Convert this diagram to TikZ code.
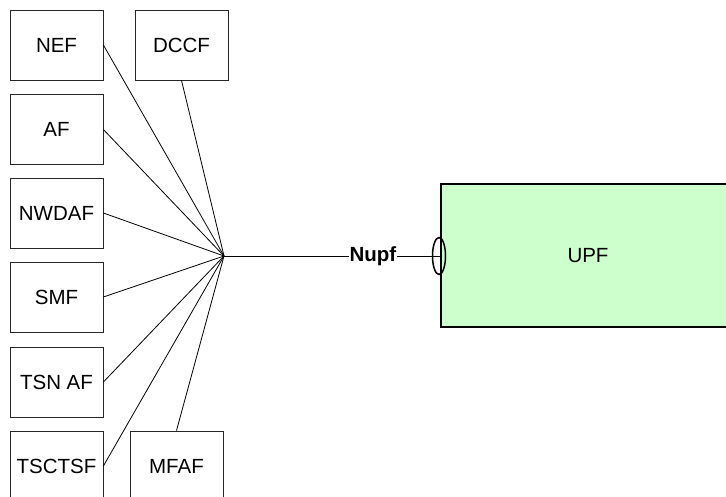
\documentclass[tikz,border=0pt]{standalone}
\usepackage{fontspec}
\setmainfont{Liberation Sans}
\usetikzlibrary{shapes.geometric}
\begin{document}
\begin{tikzpicture}[x=1pt,y=-1pt,
  nf/.style={draw=black!85, line width=0.8pt, minimum width=93pt, minimum height=70pt, inner sep=0pt, font=\fontsize{20.5}{24}\selectfont},
  conn/.style={draw=black, line width=0.8pt},
  upfbox/.style={draw=black, line width=2.5pt, fill=upfgreen, minimum width=294pt, minimum height=143pt, inner sep=0pt, font=\fontsize{20.5}{24}\selectfont}]
\definecolor{upfgreen}{HTML}{CCFFCC}
\useasboundingbox (0,0) rectangle (726,497);
\clip (0,0) rectangle (726,497);
\node[nf] (nef) at (56.5,45) {NEF};
\node[nf] (dccf) at (181.5,45) {DCCF};
\node[nf] (af) at (56.5,129.5) {AF};
\node[nf] (nwdaf) at (56.5,213) {NWDAF};
\node[nf] (smf) at (56.5,297) {SMF};
\node[nf] (tsnaf) at (56.5,382) {TSN AF};
\node[nf] (tsctsf) at (56.5,466) {TSCTSF};
\node[nf] (mfaf) at (176.5,466) {MFAF};
\coordinate (hub) at (224,256);
\node[upfbox] (upf) at (588,255.5) {UPF};
\draw[conn] (nef.east) -- (hub);
\draw[conn] (af.east) -- (hub);
\draw[conn] (nwdaf.east) -- (hub);
\draw[conn] (smf.east) -- (hub);
\draw[conn] (tsnaf.east) -- (hub);
\draw[conn] (tsctsf.east) -- (hub);
\draw[conn] (dccf.south) -- (hub);
\draw[conn] (mfaf.north) -- (hub);
\draw[conn] (hub) -- (upf.west |- hub) node[pos=0.69, fill=white, inner sep=1pt, font=\bfseries\fontsize{20.5}{24}\selectfont] (nupf) {Nupf};
\node[draw=black, line width=1.5pt, ellipse, minimum width=13pt, minimum height=37pt, inner sep=0pt] (ifc) at (439,256) {};
\draw[conn] (ifc.west) -- (upf.west |- ifc);
\end{tikzpicture}
\end{document}
